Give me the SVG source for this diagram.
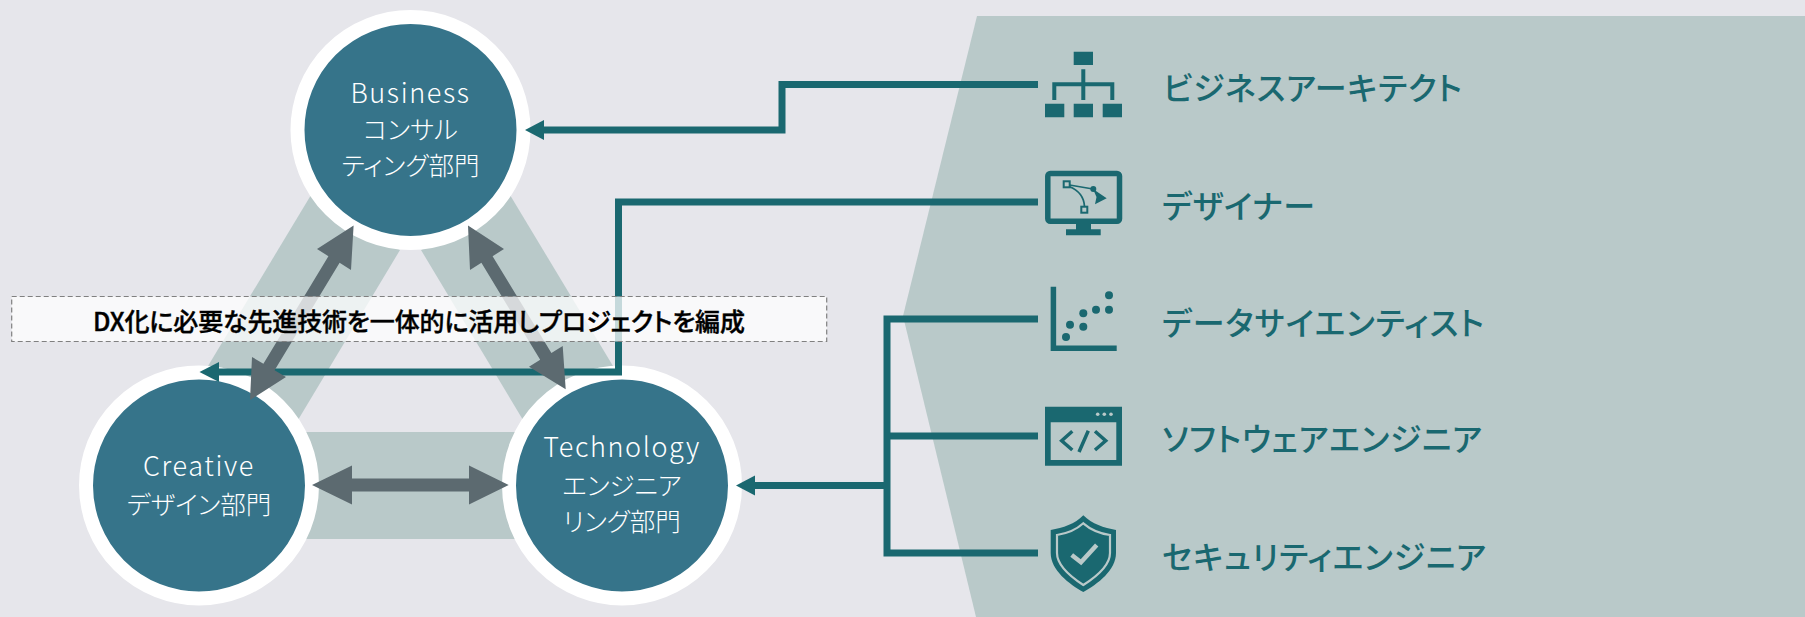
<svg xmlns="http://www.w3.org/2000/svg" width="1805" height="617" viewBox="0 0 1805 617">
<style>
.band{fill:#b9c9c9}
.ring{fill:#36748a;stroke:#fff;stroke-width:14}
.dl{font-family:"Noto Sans CJK JP","Noto Sans",sans-serif;font-size:25.5px;font-weight:300;fill:#fff;text-anchor:middle;dominant-baseline:central;font-feature-settings:"palt"}
.en{font-size:27px;letter-spacing:1.6px}
.rl{font-family:"Noto Sans CJK JP","Noto Sans",sans-serif;font-size:32px;font-weight:500;fill:#1a6870;dominant-baseline:central;font-feature-settings:"palt"}
.conn{fill:none;stroke:#1a6870;stroke-width:7}
.dbl{fill:#5c6a70}
.ic{fill:#1a6870}
.ics{fill:none;stroke:#1a6870}
.inv{fill:none;stroke:#b9c9c9}
</style>
<rect width="1805" height="617" fill="#e6e6eb"/>
<path class="band" d="M977 16H1805V617H976L903 316Z"/>
<g id="bands">
<path class="band" d="M311 195L400 250L298 420L208 366Z"/>
<path class="band" d="M510 195L421 250L523 420L613 366Z"/>
<rect class="band" x="300" y="432" width="220" height="107"/>
</g>
<g id="business"><circle class="ring" cx="410.5" cy="130" r="113"/>
<text class="dl en" x="410.5" y="91.5">Business</text><text class="dl" x="410.5" y="127.5">コンサル</text><text class="dl" x="410.5" y="163">ティング部門</text></g>
<g id="creative"><circle class="ring" cx="199" cy="485.5" r="113"/>
<text class="dl en" x="199" y="464">Creative</text><text class="dl" x="199" y="502.5">デザイン部門</text></g>
<g id="technology"><circle class="ring" cx="622" cy="485.5" r="113"/>
<text class="dl en" x="622" y="445.5">Technology</text><text class="dl" x="622" y="483.5">エンジニア</text><text class="dl" x="622" y="519.5">リング部門</text></g>
<g id="connectors">
<path class="conn" d="M1038 84.5H782V130H540"/>
<path class="ic" d="M525 130L544 120V140Z"/>
<path class="conn" d="M1038 202H618.5V372H215"/>
<path class="ic" d="M199.5 372L219 362V382Z"/>
<path class="conn" d="M1038 319H887V553H1038M887 436H1038M887 485.5H750"/>
<path class="ic" d="M736 485.5L755 475.5V495.5Z"/>
<path class="dbl" d="M353.6 225.6L351 270L339.6 262.8L274.6 370.3L286 377L250 400L252 357L263.4 363.7L328.4 256.2L317 249Z"/>
<path class="dbl" d="M468 225.6L504 249L492.6 256.2L551.4 353.1L562.7 346L565.7 389.3L529 366.7L540.2 359.7L481.4 262.8L470 270Z"/>
<path class="dbl" d="M312 485L352 465.5V478.5H469V465.5L508.7 485L469 504.5V491.5H352V504.5Z"/>
</g>
<g id="banner"><rect x="11.7" y="296.5" width="815" height="45" fill="#fff" fill-opacity=".75" stroke="#808080" stroke-width="1.2" stroke-dasharray="5 3"/>
<text x="419" y="320" font-family="'Noto Sans CJK JP','Noto Sans',sans-serif" font-size="25" font-weight="500" fill="#000" stroke="#000" stroke-width=".4" text-anchor="middle" dominant-baseline="central" textLength="652" style="font-feature-settings:'palt'">DX化に必要な先進技術を一体的に活用しプロジェクトを編成</text></g>
<g id="role-architect">
<path class="ic" d="M1073.7 51.7H1093V65H1073.7ZM1045 103.7H1064.3V117.3H1045ZM1073.7 103.7H1093V117.3H1073.7ZM1102.7 103.7H1122V117.3H1102.7Z"/>
<path class="ics" stroke-width="4" d="M1083.3 69.3V100M1054.3 100V84.3H1112.3V100"/>
<text class="rl" x="1163" y="86" textLength="299">ビジネスアーキテクト</text></g>
<g id="role-designer">
<rect class="ics" stroke-width="5.5" x="1047.8" y="173.4" width="71.7" height="47.9" rx="2.5"/>
<path class="ic" d="M1076 224H1091V229.3H1076ZM1066 229.3H1100.7V235.3H1066ZM1093 189L1106.7 198.3L1095 204.3L1096.5 197Z"/>
<circle class="ic" cx="1093.3" cy="189" r="3"/>
<path class="ics" stroke-width="1.7" d="M1069.5 185L1093 189M1069 186.5C1078 190 1084 197 1084.5 206.5"/>
<rect class="ics" stroke-width="2" x="1063.7" y="181.3" width="6" height="6"/>
<rect class="ics" stroke-width="2" x="1081.3" y="206.7" width="6" height="6"/>
<text class="rl" x="1162" y="204" textLength="153">デザイナー</text></g>
<g id="role-datascientist">
<path class="ics" stroke-width="5.5" d="M1053.4 286.7V348.3H1116.7"/>
<g class="ic"><circle cx="1109" cy="295.3" r="4"/><circle cx="1109" cy="309.7" r="4"/><circle cx="1096" cy="309.7" r="4"/><circle cx="1083.3" cy="313.3" r="4"/><circle cx="1083.3" cy="326.7" r="4"/><circle cx="1070" cy="324.7" r="4"/><circle cx="1066" cy="337" r="4"/></g>
<text class="rl" x="1162" y="321" textLength="322">データサイエンティスト</text></g>
<g id="role-software">
<path class="ic" fill-rule="evenodd" d="M1045 406.7H1122V465.7H1045ZM1050.7 422.3V460H1116.3V422.3Z"/>
<g fill="#b9c9c9"><circle cx="1097.7" cy="414.3" r="1.8"/><circle cx="1104.3" cy="414.3" r="1.8"/><circle cx="1111" cy="414.3" r="1.8"/></g>
<path class="ics" stroke-width="3.5" d="M1072.3 431.3L1061.7 440.7L1072.3 450M1095 431.3L1105.7 440.7L1095 450M1088.3 430.7L1079 452"/>
<text class="rl" x="1162" y="437" textLength="320">ソフトウェアエンジニア</text></g>
<g id="role-security">
<path class="ic" d="M1083.3 515.3C1092 524 1104 528 1116 530V553C1116 570 1098 584 1083.3 592C1069 584 1050.7 570 1050.7 553V530C1063 528 1075 524 1083.3 515.3Z"/>
<path class="inv" stroke-width="2.2" d="M1083.3 523.3C1091 530 1100 533.5 1110 535V553C1110 566 1096 577 1083.3 585C1071 577 1057 566 1057 553V535C1067 533.5 1076 530 1083.3 523.3Z"/>
<path class="inv" stroke-width="4.5" d="M1071.7 555L1081 562.3L1096.7 545"/>
<text class="rl" x="1162" y="554.5" textLength="324">セキュリティエンジニア</text></g>
</svg>
